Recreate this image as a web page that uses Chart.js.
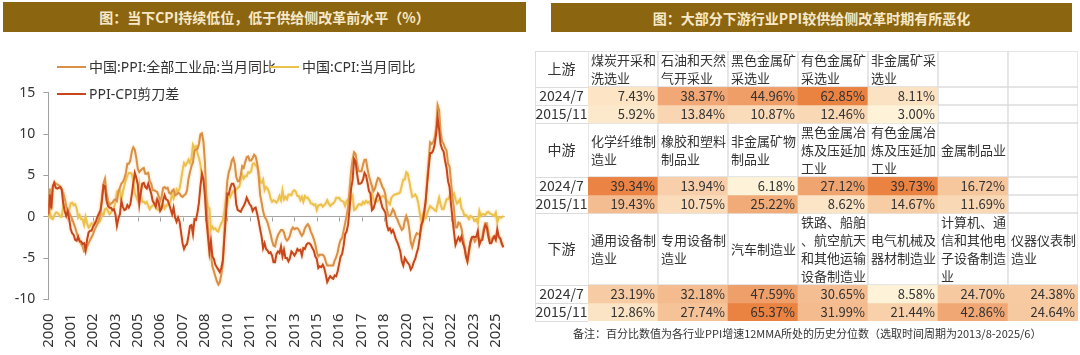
<!DOCTYPE html>
<html><head><meta charset="utf-8">
<script src="https://cdn.jsdelivr.net/npm/chart.js@4/dist/chart.umd.min.js"></script>
<style>
html,body{margin:0;padding:0;background:#fff;}
body{width:1080px;height:355px;position:relative;overflow:hidden;font-family:"Noto Sans","Noto Sans CJK SC",sans-serif;}
.tbar{position:absolute;background:#8C6510;color:#F7E9C8;font-weight:bold;font-size:14px;display:flex;align-items:center;justify-content:center;font-family:"Noto Sans CJK SC",sans-serif;z-index:3;}
#t1{left:3px;top:2px;width:523px;height:30px;}
#t2{left:551px;top:3px;width:521px;height:29px;}
#c1{position:absolute;left:0;top:0;}
#c2{position:absolute;left:530px;top:45px;}
.leg{position:absolute;font-size:14px;color:#333;line-height:16px;white-space:nowrap;z-index:2;font-family:"Noto Sans","Noto Sans CJK SC",sans-serif;}
.leg i{display:inline-block;width:29px;height:2px;vertical-align:middle;margin-right:3px;position:relative;top:-1px;}
#note{position:absolute;left:573px;top:325px;font-size:11px;color:#333;line-height:16px;white-space:nowrap;font-family:"Noto Sans CJK SC",sans-serif;}
</style>
</head><body>
<div class="tbar" id="t1">图：当下CPI持续低位，低于供给侧改革前水平（%）</div>
<div class="tbar" id="t2">图：大部分下游行业PPI较供给侧改革时期有所恶化</div>
<div class="leg" id="lg1" style="left:57px;top:59px;"><i id="k1"></i>中国:PPI:全部工业品:当月同比</div>
<div class="leg" id="lg2" style="left:270px;top:59px;"><i id="k2"></i>中国:CPI:当月同比</div>
<div class="leg" id="lg3" style="left:57px;top:86px;"><i id="k3"></i>PPI-CPI剪刀差</div>
<canvas id="c1" width="520" height="355"></canvas>
<canvas id="c2" width="550" height="285"></canvas>
<div id="note">备注：百分比数值为各行业PPI增速12MMA所处的历史分位数（选取时间周期为2013/8-2025/6）</div>
<script>
// ---------- Left chart data (monthly, 2000-01 .. 2025-06) ----------
const startYear = 2000;
const ppi = [
 0.1,3.4,0.8,3.4,4.2,4.0,3.9,3.8,3.6,3.3,2.9,2.2,
 1.3,0.7,0.5,0.1,-0.3,-0.8,-1.3,-1.9,-2.5,-2.8,-3.3,-3.6,
 -4.2,-4.1,-3.6,-3.2,-2.8,-2.5,-2.1,-1.6,-1.2,-0.8,-0.3,0.4,
 2.4,4.0,4.6,3.0,2.0,1.4,1.6,1.7,2.0,2.1,1.9,3.0,
 3.5,4.0,4.2,4.6,5.3,6.4,6.4,6.8,7.9,8.4,8.1,7.1,
 5.8,5.4,5.6,5.8,5.9,5.2,5.2,5.3,4.3,4.0,3.2,3.2,
 3.1,3.0,2.5,1.9,2.4,3.5,3.6,3.4,3.5,2.9,2.8,3.1,
 3.3,2.6,2.7,2.9,2.8,2.5,2.4,2.6,2.7,3.2,4.6,5.4,
 6.1,6.6,8.0,8.1,8.2,8.8,10.0,10.1,9.1,6.6,2.0,-1.1,
 -3.3,-4.5,-6.0,-6.6,-7.2,-7.8,-8.2,-7.9,-7.0,-5.8,-2.1,1.7,
 4.3,5.4,5.9,6.8,7.1,6.4,4.8,4.3,4.3,5.0,6.1,5.9,
 6.6,7.2,7.3,6.8,6.8,7.1,7.5,7.3,6.5,5.0,2.7,1.7,
 0.7,0.0,-0.3,-0.7,-1.4,-2.1,-2.9,-3.5,-3.6,-2.8,-2.2,-1.9,
 -1.6,-1.6,-1.9,-2.6,-2.9,-2.7,-2.3,-1.6,-1.3,-1.5,-1.4,-1.4,
 -1.6,-2.0,-2.3,-2.0,-1.4,-1.1,-0.9,-1.2,-1.8,-2.2,-2.7,-3.3,
 -4.3,-4.8,-4.6,-4.6,-4.6,-4.8,-5.4,-5.9,-5.9,-5.9,-5.9,-5.9,
 -5.3,-4.9,-4.3,-3.4,-2.8,-2.6,-1.7,-0.8,0.1,1.2,3.3,5.5,
 6.9,7.8,7.6,6.4,5.5,5.5,5.5,6.3,6.9,6.9,5.8,4.9,
 4.3,3.7,3.1,3.4,4.1,4.7,4.6,4.1,3.6,3.3,2.7,0.9,
 0.1,0.1,0.4,0.9,0.6,0.0,-0.3,-0.8,-1.2,-1.6,-1.4,-0.5,
 0.1,-0.4,-1.5,-3.1,-3.7,-3.0,-2.4,-2.0,-2.1,-2.1,-1.5,-0.4,
 0.3,1.7,4.4,6.8,9.0,8.8,9.0,9.5,10.7,13.5,12.9,10.3,
 9.1,8.8,8.3,8.0,6.4,6.1,4.2,2.3,0.9,-1.3,-1.3,-0.7,
 -0.8,-1.4,-2.5,-3.6,-4.6,-5.4,-4.4,-3.0,-2.5,-2.6,-3.0,-2.7,
 -2.5,-2.7,-2.8,-2.5,-1.4,-0.8,-0.8,-1.8,-2.8,-2.9,-2.5,-2.3,
 -2.3,-2.2,-2.5,-2.7,-3.3,-3.6
];
const cpi = [
 -0.2,0.7,-0.2,-0.3,0.1,0.5,0.5,0.3,0.0,0.0,1.3,1.5,
 1.2,0.0,0.8,1.6,1.7,1.4,1.5,1.0,-0.1,0.2,-0.3,-0.3,
 -1.0,0.0,-0.8,-1.3,-1.1,-0.8,-0.9,-0.7,-0.7,-0.8,-0.7,-0.4,
 0.4,0.2,0.9,1.0,0.7,0.3,0.5,0.9,1.1,1.8,3.0,3.2,
 3.2,2.1,3.0,3.8,4.4,5.0,5.3,5.3,5.2,4.3,2.8,2.4,
 1.9,3.9,2.7,1.8,1.8,1.6,1.8,1.3,0.9,1.2,1.3,1.6,
 1.9,0.9,0.8,1.2,1.4,1.5,1.0,1.3,1.5,1.4,1.9,2.8,
 2.2,2.7,3.3,3.0,3.4,4.4,5.6,6.5,6.2,6.5,6.9,6.5,
 7.1,8.7,8.3,8.5,7.7,7.1,6.3,4.9,4.6,4.0,2.4,1.2,
 1.0,-1.6,-1.2,-1.5,-1.4,-1.7,-1.8,-1.2,-0.8,-0.5,0.6,1.9,
 1.5,2.7,2.4,2.8,3.1,2.9,3.3,3.5,3.6,4.4,5.1,4.6,
 4.9,4.9,5.4,5.3,5.5,6.4,6.5,6.2,6.1,5.5,4.2,4.1,
 4.5,3.2,3.6,3.4,3.0,2.2,1.8,2.0,1.9,1.7,2.0,2.5,
 2.0,3.2,2.1,2.4,2.1,2.7,2.7,2.6,3.1,3.2,3.0,2.5,
 2.5,2.0,2.4,1.8,2.5,2.3,2.3,2.0,1.6,1.6,1.4,1.5,
 0.8,1.4,1.4,1.5,1.2,1.4,1.6,2.0,1.6,1.3,1.5,1.6,
 1.8,2.3,2.3,2.3,2.0,1.9,1.8,1.3,1.9,2.1,2.3,2.1,
 2.5,0.8,0.9,1.2,1.5,1.5,1.4,1.8,1.6,1.9,1.7,1.8,
 1.5,2.9,2.1,1.8,1.8,1.9,2.1,2.3,2.5,2.5,2.2,1.9,
 1.7,1.5,2.3,2.5,2.7,2.7,2.8,2.8,3.0,3.8,4.5,4.5,
 5.4,5.2,4.3,3.3,2.4,2.5,2.7,2.4,1.7,0.5,-0.5,0.2,
 -0.3,-0.2,0.4,0.9,1.3,1.1,1.0,0.8,0.7,1.5,2.3,1.5,
 0.9,0.9,1.5,2.1,2.1,2.5,2.7,2.5,2.8,2.1,1.6,1.8,
 2.1,1.0,0.7,0.1,0.2,0.0,-0.3,0.1,0.0,-0.2,-0.5,-0.3,
 -0.8,0.7,0.1,0.3,0.3,0.2,0.5,0.6,0.4,0.3,0.2,0.1,
 0.5,-0.7,-0.1,-0.1,-0.1,0.1
];
const gap = [
 0.3,2.7,1.0,3.7,4.1,3.5,3.4,3.5,3.6,3.3,1.6,0.7,
 0.1,0.7,-0.3,-1.5,-2.0,-2.2,-2.8,-2.9,-2.4,-3.0,-3.0,-3.3,
 -3.2,-4.1,-2.8,-1.9,-1.7,-1.7,-1.2,-0.9,-0.5,0.0,0.4,0.8,
 2.0,3.8,3.7,2.0,1.3,1.1,1.1,0.8,0.9,0.3,-1.1,-0.2,
 0.3,1.9,1.2,0.8,0.9,1.4,1.1,1.5,2.7,4.1,5.3,4.7,
 3.9,1.5,2.9,4.0,4.1,3.6,3.4,4.0,3.4,2.8,1.9,1.6,
 1.2,2.1,1.7,0.7,1.0,2.0,2.6,2.1,2.0,1.5,0.9,0.3,
 1.1,-0.1,-0.6,-0.1,-0.6,-1.9,-3.2,-3.9,-3.5,-3.3,-2.3,-1.1,
 -1.0,-2.1,-0.3,-0.4,0.5,1.7,3.7,5.2,4.5,2.6,-0.4,-2.3,
 -4.3,-2.9,-4.8,-5.1,-5.8,-6.1,-6.4,-6.7,-6.2,-5.3,-2.7,-0.2,
 2.8,2.7,3.5,4.0,4.0,3.5,1.5,0.8,0.7,0.6,1.0,1.3,
 1.7,2.3,1.9,1.5,1.3,0.7,1.0,1.1,0.4,-0.5,-1.5,-2.4,
 -3.8,-3.2,-3.9,-4.1,-4.4,-4.3,-4.7,-5.5,-5.5,-4.5,-4.2,-4.4,
 -3.6,-4.8,-4.0,-5.0,-5.0,-5.4,-5.0,-4.2,-4.4,-4.7,-4.4,-3.9,
 -4.1,-4.0,-4.7,-3.8,-3.9,-3.4,-3.2,-3.2,-3.4,-3.8,-4.1,-4.8,
 -5.1,-6.2,-6.0,-6.1,-5.8,-6.2,-7.0,-7.9,-7.5,-7.2,-7.4,-7.5,
 -7.1,-7.2,-6.6,-5.7,-4.8,-4.5,-3.5,-2.1,-1.8,-0.9,1.0,3.4,
 4.4,7.0,6.7,5.2,4.0,4.0,4.1,4.5,5.3,5.0,4.1,3.1,
 2.8,0.8,1.0,1.6,2.3,2.8,2.5,1.8,1.1,0.8,0.5,-1.0,
 -1.6,-1.4,-1.9,-1.6,-2.1,-2.7,-3.1,-3.6,-4.2,-5.4,-5.9,-5.0,
 -5.3,-5.6,-5.8,-6.4,-6.1,-5.5,-5.1,-4.4,-3.8,-2.6,-1.0,-0.6,
 0.6,1.9,4.0,5.9,7.7,7.7,8.0,8.7,10.0,12.0,10.6,8.8,
 8.2,7.9,6.8,5.9,4.3,3.6,1.5,-0.2,-1.9,-3.4,-2.9,-2.5,
 -2.9,-2.4,-3.2,-3.7,-4.8,-5.4,-4.1,-3.1,-2.5,-2.4,-2.5,-2.4,
 -1.7,-3.4,-2.9,-2.8,-1.7,-1.0,-1.3,-2.4,-3.2,-3.2,-2.7,-2.4,
 -2.8,-1.5,-2.4,-2.6,-3.2,-3.7
];
const xTickLabels = ['2000','2001','2002','2003','2005','2006','2007','2008','2010','2011','2012','2013','2015','2016','2017','2018','2020','2021','2022','2023','2025'];
const xTickStepMonths = 15;
const yTicks = [-10,-5,0,5,10,15];

// ---------- Right table data ----------
const segmentLabels = ['上游','中游','下游'];
const periodLabels = ['2024/7','2015/11'];
const upNames = ['煤炭开采和洗选业','石油和天然气开采业','黑色金属矿采选业','有色金属矿采选业','非金属矿采选业'];
const up2024 = [7.43,38.37,44.96,62.85,8.11];
const up2015 = [5.92,13.84,10.87,12.46,3.00];
const midNames = ['化学纤维制造业','橡胶和塑料制品业','非金属矿物制品业','黑色金属冶炼及压延加工业','有色金属冶炼及压延加工业','金属制品业'];
const mid2024 = [39.34,13.94,6.18,27.12,39.73,16.72];
const mid2015 = [19.43,10.75,25.22,8.62,14.67,11.69];
const downNames = ['通用设备制造业','专用设备制造业','汽车制造业','铁路、船舶、航空航天和其他运输设备制造业','电气机械及器材制造业','计算机、通信和其他电子设备制造业','仪器仪表制造业'];
const down2024 = [23.19,32.18,47.59,30.65,8.58,24.70,24.38];
const down2015 = [12.86,27.74,65.37,31.99,21.44,42.86,24.64];

// ---------- styles ----------
const C_PPI = '#D98F45', C_CPI = '#EBC24A', C_GAP = '#C8461F';
document.getElementById('k1').style.background = C_PPI;
document.getElementById('k2').style.background = C_CPI;
document.getElementById('k3').style.background = C_GAP;
const FONT = '"Noto Sans","Noto Sans CJK SC",sans-serif';
const CJK = '"Noto Sans CJK SC",sans-serif';

const toXY = arr => arr.map((v,i)=>({x:i,y:v}));

const zeroTicks = {
  id:'zeroTicks',
  beforeDatasetsDraw(chart){
    const {ctx, scales:{x,y}} = chart;
    const py = Math.round(y.getPixelForValue(0))+0.5;
    ctx.save(); ctx.strokeStyle='#A0A0A0'; ctx.lineWidth=1;
    x.ticks.forEach(t=>{const px=Math.round(x.getPixelForValue(t.value))+0.5; ctx.beginPath(); ctx.moveTo(px,py); ctx.lineTo(px,py+4); ctx.stroke();});
    ctx.restore();
  }
};
const glow = {
  id:'glow',
  beforeDatasetDraw(chart,args){const ctx=chart.ctx; ctx.save(); ctx.shadowColor='rgba(250,200,130,0.7)'; ctx.shadowBlur=3;},
  afterDatasetDraw(chart){chart.ctx.restore();}
};

const lineDs = (label,arr,color)=>({label, data:toXY(arr), borderColor:color, borderWidth:2, pointRadius:0, tension:0, fill:false});

new Chart(document.getElementById('c1'), {
  type:'line',
  data:{datasets:[
    lineDs('PPI-CPI剪刀差', gap, C_GAP),
    lineDs('中国:PPI:全部工业品:当月同比', ppi, C_PPI),
    lineDs('中国:CPI:当月同比', cpi, C_CPI)
  ]},
  options:{
    responsive:false, animation:false, devicePixelRatio:1,
    layout:{padding:{left:0,right:11.6,top:92.7,bottom:0}},
    plugins:{legend:{display:false}, tooltip:{enabled:false}},
    scales:{
      x:{type:'linear', min:0, max:306,
         afterBuildTicks:s=>{s.ticks = xTickLabels.map((_,i)=>({value:i*xTickStepMonths}));},
         afterFit:s=>{s.height=55.6;},
         grid:{display:false}, border:{display:false},
         ticks:{autoSkip:false, maxRotation:90, minRotation:90, padding:6, color:'#333', font:{size:15,family:FONT},
                callback:(v,i)=>xTickLabels[i]}},
      y:{min:-10, max:15,
         afterBuildTicks:s=>{s.ticks = yTicks.map(v=>({value:v}));},
         afterFit:s=>{s.width=48.3;},
         ticks:{color:'#333', padding:8, font:{size:14,family:FONT}},
         grid:{color:c=>(c.tick && c.tick.value===0)?'#A6A6A6':'rgba(0,0,0,0)', tickColor:'#A0A0A0', tickLength:5, lineWidth:1},
         border:{color:'#A0A0A0', width:1}}
    }
  },
  plugins:[zeroTicks, glow]
});

// ---------- Right table as floating bar chart ----------
const blocks = [
  {seg:segmentLabels[0], names:upNames, a:up2024, b:up2015, lines:2},
  {seg:segmentLabels[1], names:midNames, a:mid2024, b:mid2015, lines:3},
  {seg:segmentLabels[2], names:downNames, a:down2024, b:down2015, lines:4}
];
const NCOL = 7;
const rows = [];
let cursor = 0;
blocks.forEach(bk=>{
  const all = bk.a.concat(bk.b);
  const mn = Math.min(...all), mx = Math.max(...all);
  rows.push({kind:'head', label:bk.seg, texts:bk.names, s:cursor, e:cursor+bk.lines}); cursor += bk.lines;
  rows.push({kind:'val', label:periodLabels[0], vals:bk.a, mn, mx, s:cursor, e:cursor+1}); cursor += 1;
  rows.push({kind:'val', label:periodLabels[1], vals:bk.b, mn, mx, s:cursor, e:cursor+1}); cursor += 1;
});
const totalLines = cursor;
const LO = [254,242,216], HI = [234,130,66];
function heat(v,mn,mx){
  const t = Math.pow((v-mn)/(mx-mn), 0.8);
  const c = LO.map((l,i)=>Math.round(l+(HI[i]-l)*t));
  return `rgb(${c[0]},${c[1]},${c[2]})`;
}
const colLabels = Array.from({length:NCOL},(_,i)=>'c'+(i+1));
const tableDatasets = rows.map(r=>({
  label:r.label,
  data: colLabels.map(()=>[r.s, r.e]),
  rowInfo:r,
  grouped:false, barPercentage:1, categoryPercentage:1, borderSkipped:false,
  backgroundColor: c=>{const v = r.kind==='val' ? r.vals[c.dataIndex] : undefined; return v!==undefined ? heat(v,r.mn,r.mx) : '#ffffff';},
  borderColor:'#DCDCDC',
  borderWidth: c=>{const v = r.kind==='val' ? r.vals[c.dataIndex] : undefined; return v!==undefined ? 0 : 1;}
}));

function wrap(ctx, text, maxW){
  const lines=[]; let cur='';
  for(const ch of text){ if(ctx.measureText(cur+ch).width>maxW && cur){lines.push(cur); cur=ch;} else cur+=ch; }
  if(cur) lines.push(cur); return lines;
}
const cellText = {
  id:'cellText',
  afterDatasetsDraw(chart){
    const ctx = chart.ctx;
    ctx.save();
    ctx.font = '13px '+CJK; ctx.fillStyle='#333'; ctx.textBaseline='middle';
    chart.data.datasets.forEach((ds,di)=>{
      const r = ds.rowInfo; const meta = chart.getDatasetMeta(di);
      meta.data.forEach((el,j)=>{
        const left = el.x-el.width/2, right = el.x+el.width/2;
        const top = Math.min(el.y, el.base), bot = Math.max(el.y, el.base), mid=(top+bot)/2;
        if(r.kind==='head'){
          const t = r.texts[j]; if(!t) return;
          const ls = wrap(ctx, t, right-left-3);
          const lh = 18;
          ctx.textAlign='left';
          ls.forEach((l,k)=>ctx.fillText(l, left+3, mid + (k-(ls.length-1)/2)*lh));
        } else {
          const v = r.vals[j]; if(v===undefined) return;
          ctx.textAlign='right';
          ctx.fillText(v.toFixed(2)+'%', right-3, mid);
        }
      });
    });
    // label column: borders and row labels, placed with the y scale
    const y = chart.scales.y; const L = chart.chartArea.left - 53, R = chart.chartArea.left;
    ctx.strokeStyle='#DCDCDC'; ctx.lineWidth=1;
    const bounds = [0].concat(rows.map(r=>r.e));
    bounds.forEach(b=>{const py=Math.round(y.getPixelForValue(b))+0.5; ctx.beginPath(); ctx.moveTo(L,py); ctx.lineTo(R,py); ctx.stroke();});
    ctx.beginPath(); ctx.moveTo(Math.round(L)+0.5, y.getPixelForValue(0)); ctx.lineTo(Math.round(L)+0.5, y.getPixelForValue(totalLines)); ctx.stroke();
    ctx.font = '14px '+FONT; ctx.textAlign='center'; ctx.fillStyle='#333';
    ctx.font = '14px '+CJK;
    rows.forEach(r=>{ ctx.fillText(r.label, (L+R)/2, y.getPixelForValue((r.s+r.e)/2)); });
    ctx.restore();
  }
};

new Chart(document.getElementById('c2'), {
  type:'bar',
  data:{labels:colLabels, datasets:tableDatasets},
  options:{
    responsive:false, animation:false, devicePixelRatio:1,
    layout:{padding:{left:5,right:2,top:6,bottom:9}},
    plugins:{legend:{display:false}, tooltip:{enabled:false}},
    scales:{
      x:{type:'category', display:false, offset:true},
      y:{type:'linear', min:0, max:totalLines, reverse:true,
         afterBuildTicks:s=>{s.ticks = rows.map(r=>({value:(r.s+r.e)/2}));},
         afterFit:s=>{s.width=53;},
         grid:{display:false}, border:{display:false},
         ticks:{display:false}}
    }
  },
  plugins:[cellText]
});
</script>
</body></html>
